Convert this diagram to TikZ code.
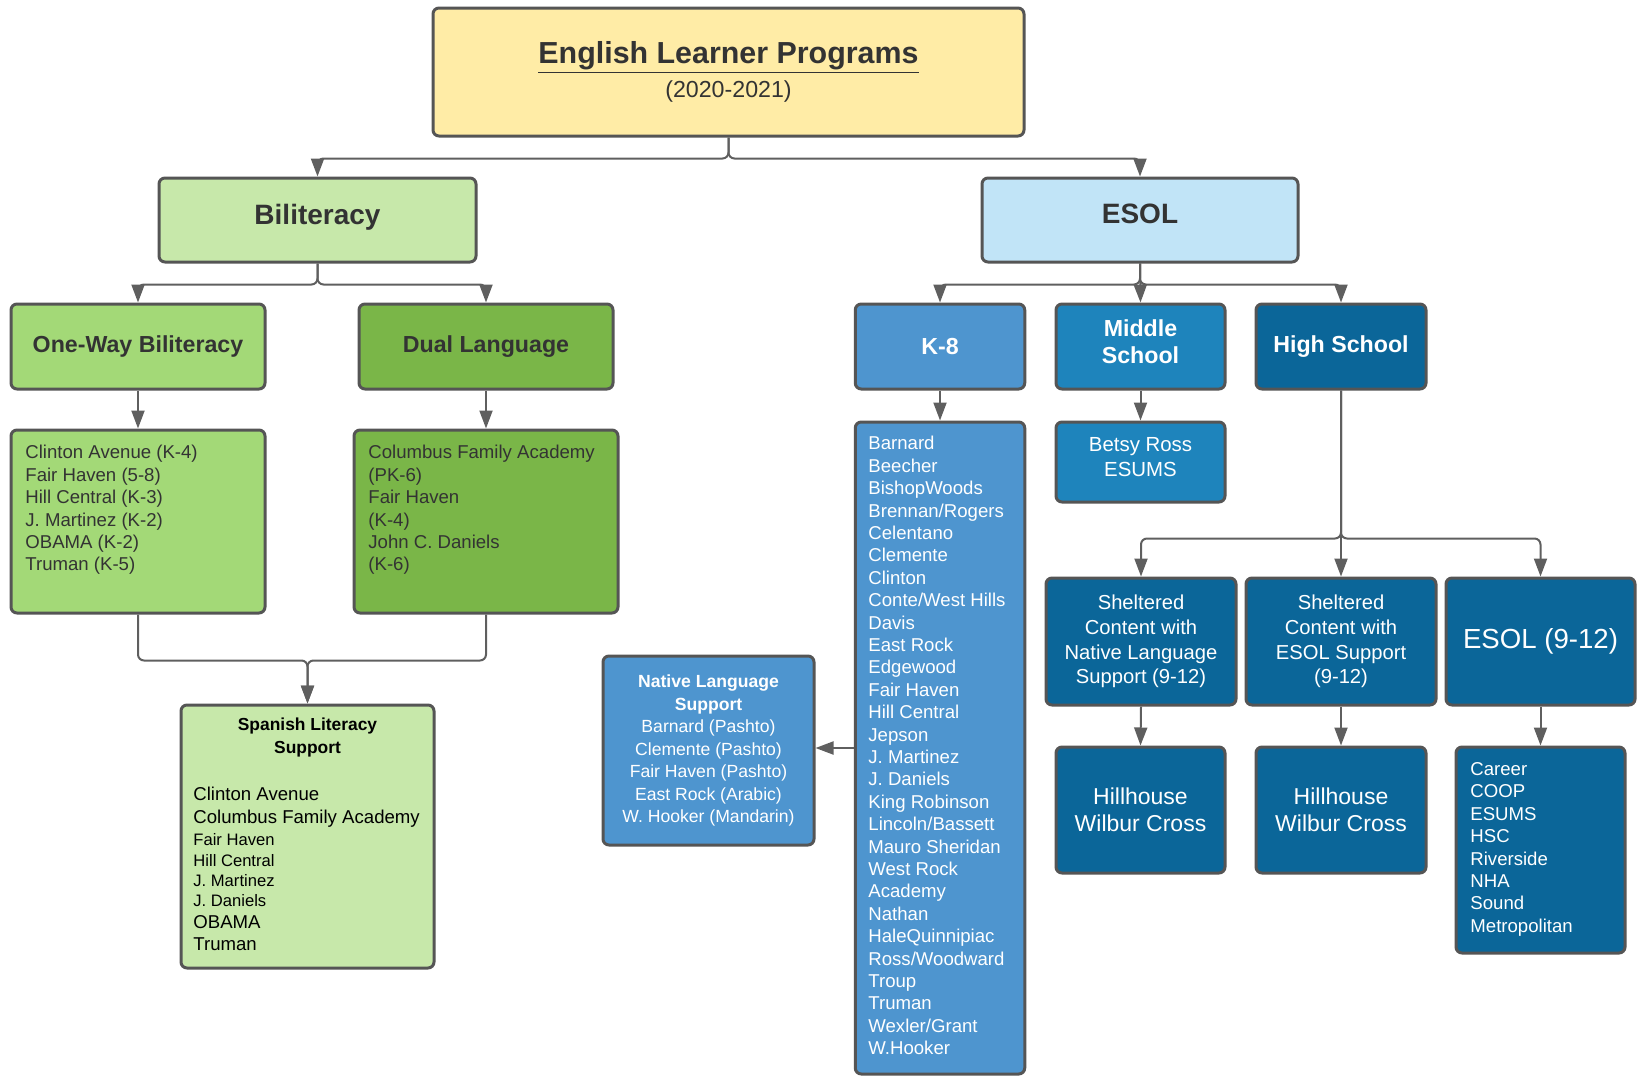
\documentclass[tikz,border=0pt]{standalone}
\usepackage{fontspec}
\setmainfont{Liberation Sans}
\usepackage{tikz}
\usetikzlibrary{arrows.meta,positioning}
\definecolor{titleyellow}{RGB}{255,236,166}
\definecolor{paleGreen}{RGB}{199,232,170}
\definecolor{midGreen}{RGB}{163,217,119}
\definecolor{darkGreen}{RGB}{122,182,72}
\definecolor{paleBlue}{RGB}{193,228,247}
\definecolor{kBlue}{RGB}{78,149,207}
\definecolor{midBlue}{RGB}{30,132,188}
\definecolor{deepBlue}{RGB}{11,102,153}
\definecolor{boxgray}{RGB}{85,85,85}
\definecolor{linkgray}{RGB}{95,95,95}
\definecolor{textgray}{RGB}{51,51,51}

\tikzset{
  box/.style={draw=boxgray, line width=1.5pt, rounded corners=3pt, inner sep=0pt, align=center, text=textgray},
  bluebox/.style={box, text=white},
  link/.style={draw=linkgray, line width=1pt, rounded corners=3pt},
  arr/.style={link, -{Triangle[length=9pt,width=6.5pt]}},
  listtext/.style={anchor=north west, inner sep=0pt, align=left, text=textgray, font=\fontsize{9.3}{11.2}\selectfont},
  head/.style={font=\fontsize{11.6}{13.5}\selectfont\bfseries}
}

\begin{document}
\begin{tikzpicture}[x=0.5pt,y=-0.5pt]
\useasboundingbox (0,0) rectangle (1638,1077);
% top level
\node[box, fill=titleyellow, minimum width=295.5pt, minimum height=64pt, font=\fontsize{11.6}{17}\selectfont] (title) at (728.5,72) {{\fontsize{15.2}{17}\selectfont\bfseries\underline{English Learner Programs}}\\(2020-2021)};
\node[box, fill=paleGreen, minimum width=158.5pt, minimum height=42pt, font=\fontsize{14}{16}\selectfont\bfseries, text depth=6pt] (bil) at (317.5,220) {Biliteracy};
\node[box, fill=paleBlue, minimum width=158pt, minimum height=42pt, font=\fontsize{14}{16}\selectfont\bfseries, text depth=6pt] (esol) at (1140,220) {ESOL};
\draw[arr] (title.south) -- ++(0,21) -| (bil.north);
\draw[arr] (title.south) -- ++(0,21) -| (esol.north);

% biliteracy branch
\node[box, head, fill=midGreen, minimum width=127pt, minimum height=42.5pt] (oneway) at (138,346.5) {One-Way Biliteracy};
\node[box, head, fill=darkGreen, minimum width=127pt, minimum height=42.5pt] (dual) at (486,346.5) {Dual Language};
\draw[arr] (bil.south) -- ++(0,21) -| (oneway.north);
\draw[arr] (bil.south) -- ++(0,21) -| (dual.north);
\node[box, fill=midGreen, minimum width=127pt, minimum height=91.5pt] (owlist) at (138,521.5) {};
\node[listtext] (owtext) at (25,445) {Clinton Avenue (K-4)\\Fair Haven (5-8)\\Hill Central (K-3)\\J. Martinez (K-2)\\OBAMA (K-2)\\Truman (K-5)};
\node[box, fill=darkGreen, minimum width=132pt, minimum height=91.5pt] (dllist) at (486,521.5) {};
\node[listtext] (dltext) at (368,445) {Columbus Family Academy\\(PK-6)\\Fair Haven\\(K-4)\\John C. Daniels\\(K-6)};
\draw[arr] (oneway.south) -- (owlist.north);
\draw[arr] (dual.south) -- (dllist.north);

\node[box, fill=paleGreen, minimum width=126.5pt, minimum height=131.5pt] (span) at (307.5,836.5) {};
\node[inner sep=0pt, align=center, text=black, font=\fontsize{8.7}{11.5}\selectfont\bfseries] (spanhead) at (307.5,737.5) {Spanish Literacy\\Support};
\node[listtext, text=black] (spantext) at (193,787) {Clinton Avenue\\Columbus Family Academy\\{\fontsize{8.3}{10}\selectfont Fair Haven}\\[-1pt]{\fontsize{8.3}{10}\selectfont Hill Central}\\[-1pt]{\fontsize{8.3}{10}\selectfont J. Martinez}\\[-1pt]{\fontsize{8.3}{10}\selectfont J. Daniels}\\[-0.5pt]OBAMA\\Truman};
\draw[arr] (owlist.south) -- ++(0,46) -| (span.north);
\draw[arr] (dllist.south) -- ++(0,46) -| (span.north);

% esol branch
\node[bluebox, head, fill=kBlue, minimum width=84.75pt, minimum height=42.5pt] (k8) at (940,346.5) {K-8};
\node[bluebox, head, fill=midBlue, minimum width=84.5pt, minimum height=42.5pt, text depth=5pt] (mid) at (1140.5,346.5) {Middle\\School};
\node[bluebox, head, fill=deepBlue, minimum width=85pt, minimum height=42.5pt] (hs) at (1341,346.5) {High School};
\draw[arr] (esol.south) -- ++(0,21) -| (k8.north);
\draw[arr] (esol.south) -- (mid.north);
\draw[arr] (esol.south) -- ++(0,21) -| (hs.north);

\node[bluebox, fill=kBlue, minimum width=84.75pt, minimum height=326pt] (k8list) at (940,748) {};
\node[listtext, text=white] (k8text) at (868,436) {Barnard\\Beecher\\BishopWoods\\Brennan/Rogers\\Celentano\\Clemente\\Clinton\\Conte/West Hills\\Davis\\East Rock\\Edgewood\\Fair Haven\\Hill Central\\Jepson\\J. Martinez\\J. Daniels\\King Robinson\\Lincoln/Bassett\\Mauro Sheridan\\West Rock\\Academy\\Nathan\\HaleQuinnipiac\\Ross/Woodward\\Troup\\Truman\\Wexler/Grant\\W.Hooker};
\draw[arr] (k8.south) -- (k8list.north);

\node[bluebox, fill=kBlue, minimum width=105.5pt, minimum height=94.5pt, font=\fontsize{8.8}{11.25}\selectfont] (native) at (708.5,750.5) {\textbf{Native Language}\\\textbf{Support}\\Barnard (Pashto)\\Clemente (Pashto)\\Fair Haven (Pashto)\\East Rock (Arabic)\\W. Hooker (Mandarin)};
\draw[arr] (k8list.west) -- (k8list.west -| native.east);

\node[bluebox, fill=midBlue, minimum width=84.5pt, minimum height=40pt, font=\fontsize{10.2}{12.3}\selectfont, text depth=5pt] (betsy) at (1140.5,462) {Betsy Ross\\ESUMS};
\draw[arr] (mid.south) -- (betsy.north);

% high school
\node[bluebox, fill=deepBlue, minimum width=95pt, minimum height=63.5pt, font=\fontsize{10.1}{12.3}\selectfont] (shna) at (1141,641.5) {Sheltered\\Content with\\Native Language\\Support (9-12)};
\node[bluebox, fill=deepBlue, minimum width=95pt, minimum height=63.5pt, font=\fontsize{10.1}{12.3}\selectfont] (shes) at (1341,641.5) {Sheltered\\Content with\\ESOL Support\\(9-12)};
\node[bluebox, fill=deepBlue, minimum width=94.5pt, minimum height=63.5pt, font=\fontsize{13.8}{16}\selectfont] (esoltw) at (1540.5,641.5) {ESOL (9-12)};
\draw[arr] (hs.south) -- ++(0,148) -| (shna.north);
\draw[arr] (hs.south) -- (shes.north);
\draw[arr] (hs.south) -- ++(0,148) -| (esoltw.north);

\node[bluebox, fill=deepBlue, minimum width=84.5pt, minimum height=63pt, font=\fontsize{11.5}{13.7}\selectfont] (hill) at (1140.5,810) {Hillhouse\\Wilbur Cross};
\node[bluebox, fill=deepBlue, minimum width=85pt, minimum height=63pt, font=\fontsize{11.5}{13.7}\selectfont] (hilltwo) at (1341,810) {Hillhouse\\Wilbur Cross};
\node[bluebox, fill=deepBlue, minimum width=84.5pt, minimum height=103pt] (career) at (1540.5,850) {};
\node[listtext, text=white] (careertext) at (1470,762) {Career\\COOP\\ESUMS\\HSC\\Riverside\\NHA\\Sound\\Metropolitan};
\draw[arr] (shna.south) -- (hill.north);
\draw[arr] (shes.south) -- (hilltwo.north);
\draw[arr] (esoltw.south) -- (career.north);
\end{tikzpicture}
\end{document}
